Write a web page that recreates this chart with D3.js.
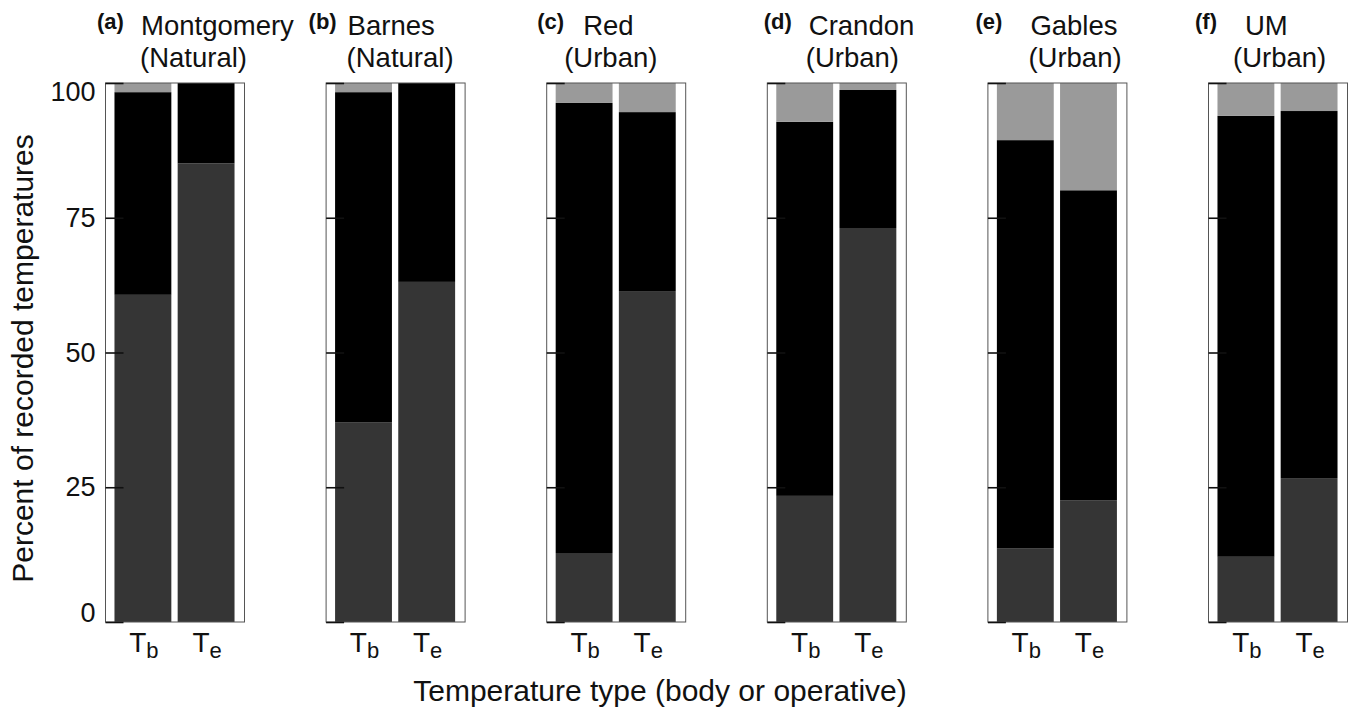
<!DOCTYPE html>
<html>
<head>
<meta charset="utf-8">
<script src="https://cdn.jsdelivr.net/npm/d3@7"></script>
<style>
  html, body { margin: 0; padding: 0; background: #fff; }
  svg { display: block; font-family: "Liberation Sans", Arial, sans-serif; }
</style>
</head>
<body>
<svg id="chart" width="1349" height="708"></svg>
<script>
// ---- data ----
const panelLetters = ["(a)", "(b)", "(c)", "(d)", "(e)", "(f)"];
const sites = ["Montgomery", "Barnes", "Red", "Crandon", "Gables", "UM"];
const habitats = ["(Natural)", "(Natural)", "(Urban)", "(Urban)", "(Urban)", "(Urban)"];
const tempTypes = ["b", "e"]; // T_b (body), T_e (operative)
const seriesNames = ["below", "within", "above"];
// percent of recorded temperatures, per site, for T_b and T_e
const belowTb  = [60.7, 37.0, 12.8, 23.4, 13.7, 12.1];
const withinTb = [37.6, 61.3, 83.5, 69.4, 75.7, 81.8];
const aboveTb  = [1.7, 1.7, 3.7, 7.2, 10.6, 6.1];
const belowTe  = [85.1, 63.1, 61.4, 73.1, 22.6, 26.7];
const withinTe = [14.9, 36.9, 33.2, 25.6, 57.5, 68.1];
const aboveTe  = [0.0, 0.0, 5.4, 1.3, 19.9, 5.2];
const yTicks = [0, 25, 50, 75, 100];

// ---- layout ----
const svg = d3.select("#chart");
const plotTop = 83, plotBottom = 622;
const panelW = 139, panelStep = 220.6, firstLeft = 105;
const colors = { below: "#353535", within: "#000000", above: "#9a9a9a" };
// title offsets (letter x, name x, habitat x) relative to panel left
const titleOffsets = [
  [-8, 36, 35], [-17, 22, 21], [-9, 37, 18], [-3, 42, 39], [-12, 43, 41], [-13, 37, 25]
];

const y = d3.scaleLinear().domain([0, 100]).range([plotBottom, plotTop]);

sites.forEach((site, i) => {
  const left = firstLeft + i * panelStep;
  const g = svg.append("g").attr("transform", `translate(${left},0)`);
  const x = d3.scaleBand().domain(tempTypes).range([0, panelW]).paddingInner(0.1).paddingOuter(0.15);

  const rows = [
    { type: "b", below: belowTb[i], within: withinTb[i], above: aboveTb[i] },
    { type: "e", below: belowTe[i], within: withinTe[i], above: aboveTe[i] }
  ];
  const stacked = d3.stack().keys(seriesNames)(rows);

  stacked.forEach(layer => {
    g.selectAll(null).data(layer).enter().append("rect")
      .attr("x", d => x(d.data.type))
      .attr("width", x.bandwidth())
      .attr("y", d => y(Math.min(100, d[1])))
      .attr("height", d => Math.max(0, y(d[0]) - y(Math.min(100, d[1]))))
      .attr("fill", colors[layer.key]);
  });

  // frame
  g.append("rect").attr("x", 0.5).attr("y", plotTop).attr("width", panelW).attr("height", plotBottom - plotTop)
    .attr("fill", "none").attr("stroke", "#555").attr("stroke-width", 1);

  // y axis ticks (inward)
  const axis = d3.axisLeft(y).tickValues(yTicks).tickSizeInner(-18).tickSizeOuter(0).tickPadding(10)
    .tickFormat(i === 0 ? d3.format("d") : () => "");
  const ag = g.append("g").attr("transform", "translate(0.5,0)").call(axis);
  ag.select(".domain").remove();
  ag.selectAll(".tick line").attr("stroke", "#111").attr("stroke-width", 1.6);
  ag.selectAll(".tick text").attr("font-size", 27).attr("fill", "#111")
    .attr("font-family", "Liberation Sans, Arial, sans-serif")
    .attr("transform", d => `translate(0,${d === 100 ? 9 : d === 0 ? -9 : 0})`);

  // x tick labels T_b / T_e
  tempTypes.forEach(t => {
    const tx = g.append("text").attr("x", x(t) + x.bandwidth() / 2 + 1).attr("y", 652)
      .attr("text-anchor", "middle").attr("font-size", 28).attr("fill", "#111");
    tx.append("tspan").text("T");
    tx.append("tspan").attr("dy", 6).attr("font-size", 22).text(t);
  });

  // titles
  const off = titleOffsets[i];
  svg.append("text").attr("x", left + off[0]).attr("y", 29).attr("font-size", 22).attr("font-weight", "bold")
    .attr("fill", "#111").text(panelLetters[i]);
  svg.append("text").attr("x", left + off[1]).attr("y", 35).attr("font-size", 27.5)
    .attr("fill", "#111").text(site);
  svg.append("text").attr("x", left + off[2]).attr("y", 67).attr("font-size", 27.5)
    .attr("fill", "#111").text(habitats[i]);
});

// axis titles
svg.append("text").attr("transform", `translate(33,${(plotTop + plotBottom) / 2 + 6}) rotate(-90)`)
  .attr("text-anchor", "middle").attr("font-size", 30).attr("fill", "#111")
  .text("Percent of recorded temperatures");
svg.append("text").attr("x", 660).attr("y", 701).attr("text-anchor", "middle")
  .attr("font-size", 30).attr("fill", "#111")
  .text("Temperature type (body or operative)");
</script>
</body>
</html>
